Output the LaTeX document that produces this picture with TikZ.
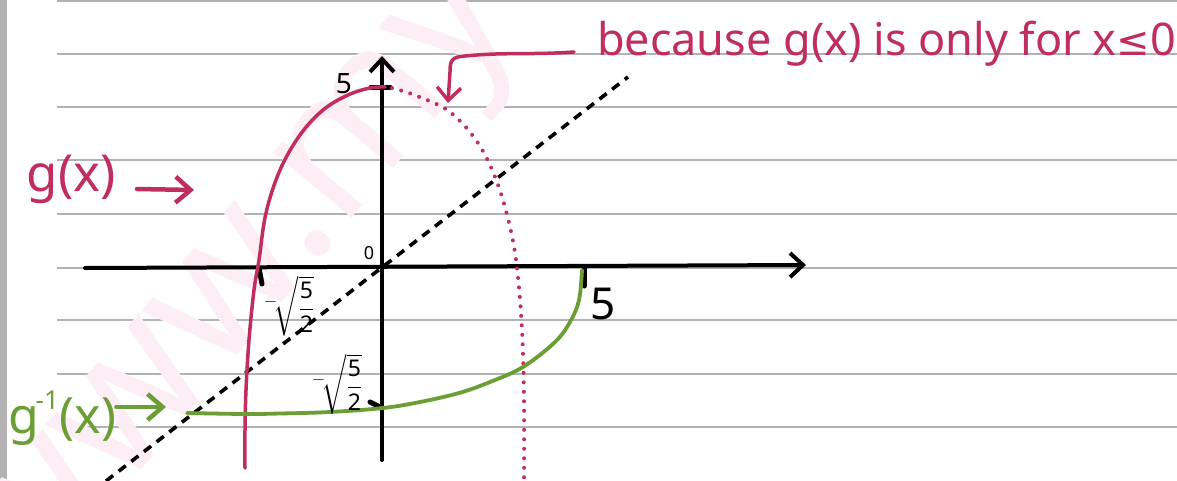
\documentclass[tikz,border=0pt]{standalone}
\usepackage{fontspec}
\usepackage{amsmath}
\setmainfont{Noto Sans}
\newfontfamily\symfont{DejaVu Sans}
\usetikzlibrary{arrows.meta}
\definecolor{gred}{RGB}{192,46,94}
\definecolor{ggreen}{RGB}{107,158,52}
\definecolor{rulegray}{RGB}{178,178,178}
\definecolor{wmark}{RGB}{253,238,245}
\begin{document}
\begin{tikzpicture}[x=1pt,y=-1pt,
  ruled/.style={rulegray, line width=1.4pt},
  axisline/.style={black, line width=4pt, line cap=round},
  gcurve/.style={gred, line width=3.5pt, line cap=round},
  ginv/.style={ggreen, line width=3.8pt, line cap=round},
  pointer/.style={line width=4.5pt, line cap=round, line join=round},
  dotline/.style={gred, line width=4pt, line cap=round, dash pattern=on 0pt off 9.5pt},
  diagline/.style={black, line width=3.6pt, dash pattern=on 9pt off 7pt},
  tickmark/.style={black, line width=5pt, line cap=round},
  hand/.style={inner sep=0pt, outer sep=0pt},
  barbtip/.style={-{Straight Barb[length=13pt,width=24pt]}},
  bigbarb/.style={-{Straight Barb[length=15pt,width=26pt]}}
]
\useasboundingbox (0,0) rectangle (1177,480);
\fill[white] (0,0) rectangle (1177,480);
% left margin bar
\fill[rulegray] (0,0) rectangle (7,480);
% ruled lines
\foreach \yy in {1,54,107,160,214,268,320,374,427}
  \draw[ruled] (57,\yy) -- (1177,\yy);
% watermark
\node[hand, text=wmark, font=\fontsize{190}{190}\selectfont\bfseries, rotate=50] (wm) at (250,295) {www.my};
% dashed y=x line
\coordinate (dA) at (106,481);
\coordinate (dB) at (628,77);
\draw[diagline] (dA) -- (dB);
% axes
\coordinate (xL) at (85,268);
\coordinate (xR) at (806,265);
\coordinate (yB) at (382,460);
\coordinate (yT) at (382,56);
\draw[axisline, barbtip] (xL) -- (xR);
\draw[axisline, barbtip] (yB) -- (yT);
% ticks
\draw[tickmark] (259,268) -- (262,284);
\draw[tickmark] (584,268) -- (584,286);
\draw[tickmark] (371,87) -- (390,87);
\draw[tickmark] (370,402) -- (382,408);
% g(x)
\draw[gcurve] plot[smooth, tension=0.6] coordinates {(245,468) (245,430) (246,390) (249,340) (254,290) (259,260) (266,213) (280,170) (300,135) (323,110) (348,95) (370,88) (385,87)};
% dotted continuation
\draw[dotline] plot[smooth, tension=0.6] coordinates {(392,88) (417,96) (450,112) (478,143) (497,182) (510,227) (517,268) (522,330) (524,400) (524,482)};
% inverse
\draw[ginv] plot[smooth, tension=0.6] coordinates {(582,270) (579,300) (570,322) (555,342) (523,367) (490,382) (459,393) (420,402) (383,408) (330,412) (280,413.5) (245,414) (187,413)};
% labels
\node[hand, font=\fontsize{28}{28}\selectfont\bfseries] (y5) at (344,84) {5};
\node[hand, font=\fontsize{18}{18}\selectfont\bfseries] (orig) at (369,253) {0};
\node[hand, font=\fontsize{44}{44}\selectfont] (x5) at (603,304) {5};
\node[hand, font=\fontsize{23}{23}\selectfont] (rootx) at (289,306) {$^{-}\!\sqrt{\dfrac{\textbf{5}}{\textbf{2}}}$};
\node[hand, font=\fontsize{23}{23}\selectfont] (rooty) at (337,384) {$^{-}\!\sqrt{\dfrac{\textbf{5}}{\textbf{2}}}$};
% g(x) label
\node[hand, text=gred, font=\fontsize{51}{51}\selectfont, anchor=base west] (gx) at (27,191) {g(x)};
\coordinate (gxs) at (137,189);
\coordinate (gxe) at (194,190);
\draw[pointer, gred, bigbarb] (gxs) -- (gxe);
% inverse label
\node[hand, text=ggreen, font=\fontsize{50}{50}\selectfont, anchor=base west] (gi) at (9,433) {g\kern-4pt\raisebox{0.48em}{\fontsize{26}{26}\selectfont -1}\kern1pt(x)};
\coordinate (gie) at (166,407);
\draw[pointer, ggreen, bigbarb] (gi.east |- gie) -- (gie);
% callout
\node[hand, text=gred, font=\fontsize{45}{45}\selectfont, anchor=base west] (because) at (597,55) {because g(x) is only for x{\symfont\fontsize{40}{40}\selectfont ≤}0};
\coordinate (cs) at (574,52);
\coordinate (ce) at (448,103);
\draw[gcurve, barbtip] (cs) .. controls (530,55) and (505,52) .. (465,56) .. controls (452,57) and (450,60) .. (450,72) -- (ce);
\end{tikzpicture}
\end{document}
